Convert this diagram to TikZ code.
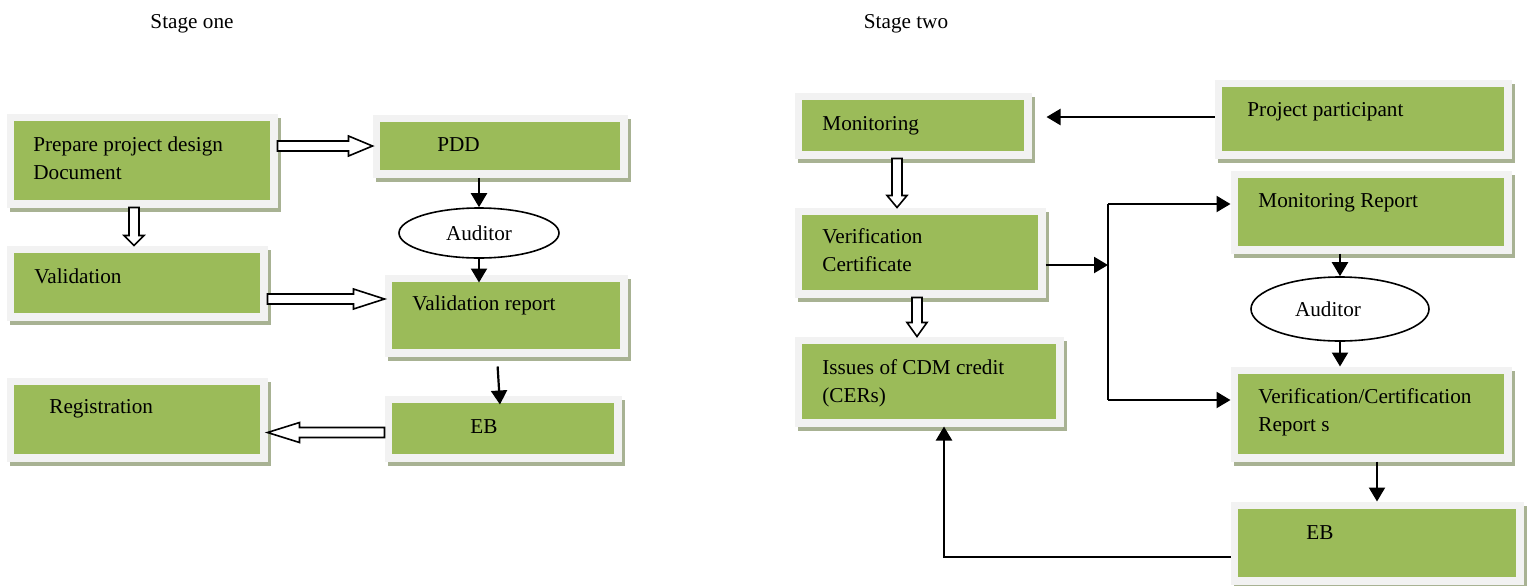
\documentclass[tikz,border=0pt]{standalone}
\usepackage{fontspec}
\setmainfont{Liberation Serif}
\usetikzlibrary{positioning, arrows.meta, shapes.geometric, calc}

\definecolor{boxgreen}{HTML}{9BBB59}
\definecolor{boxframe}{HTML}{F2F2F2}
\definecolor{boxshade}{HTML}{A8B293}

\tikzset{
  every node/.style={font=\fontsize{10.6pt}{14pt}\selectfont},
  box/.style={draw=boxframe, fill=boxgreen, line width=3.75pt, inner sep=0pt,
    preaction={draw=boxshade, fill=boxshade, line width=3.75pt,
      transform canvas={shift={(1.5pt,-2pt)}}}},
  txt/.style={inner sep=0pt, anchor=base west, align=left},
  title/.style={inner sep=0pt, anchor=base},
  aud/.style={ellipse, draw, line width=0.8pt, fill=white, inner sep=0pt},
  conn/.style={draw, line width=1.1pt, -{Triangle[length=7pt,width=8pt]}},
  hollow/.style={draw, fill=white, line width=0.8pt, line join=miter}
}

% block arrow from #2 to #3, head length #1
\newcommand{\blockarrow}[3][11pt]{%
  \coordinate (ba-s) at (#2);
  \coordinate (ba-e) at (#3);
  \coordinate (ba-h) at ($(ba-e)!#1!(ba-s)$);
  \draw[hollow] ($(ba-s)!2.5pt!90:(ba-e)$) -- ($(ba-h)!2.5pt!-90:(ba-s)$)
    -- ($(ba-h)!5pt!-90:(ba-s)$) -- (ba-e) -- ($(ba-h)!5pt!90:(ba-s)$)
    -- ($(ba-h)!2.5pt!90:(ba-s)$) -- ($(ba-s)!2.5pt!-90:(ba-e)$) -- cycle;
}

\begin{document}
\begin{tikzpicture}[x=0.5pt, y=-0.5pt]
\useasboundingbox (0,0) rectangle (1533,585);

% titles
\node[title] (st1) at (192,28) {Stage one};
\node[title] (st2) at (906,28) {Stage two};

% stage one boxes
\node[box, minimum width=131.75pt, minimum height=43.25pt] (prep) at (142,160.5) {};
\node[box, minimum width=123.75pt, minimum height=27.75pt] (pdd) at (500,146) {};
\node[box, minimum width=126.75pt, minimum height=33.75pt] (valid) at (137,283) {};
\node[box, minimum width=117.75pt, minimum height=37.25pt] (vreport) at (506,315.5) {};
\node[box, minimum width=114.75pt, minimum height=29.25pt] (ebl) at (503,428.5) {};
\node[box, minimum width=126.75pt, minimum height=38.25pt] (regis) at (137,419.5) {};
\node[aud, minimum width=80pt, minimum height=25pt] (aud1) at (479,233) {Auditor};

% stage one texts (base = last line)
\node[txt] (prep-t) at (33,179) {Prepare project design\\Document};
\node[txt] (pdd-t) at (437,151) {PDD};
\node[txt] (valid-t) at (34,283) {Validation};
\node[txt] (vreport-t) at (412,310) {Validation report};
\node[txt] (ebl-t) at (470,433) {EB};
\node[txt] (regis-t) at (49,413) {Registration};

% stage two boxes
\node[box, minimum width=114.75pt, minimum height=29.25pt] (monit) at (913,125.5) {};
\node[box, minimum width=144.75pt, minimum height=35.75pt] (partic) at (1363,119) {};
\node[box, minimum width=121.75pt, minimum height=41.25pt] (verif) at (920,252.5) {};
\node[box, minimum width=136.75pt, minimum height=37.75pt] (monrep) at (1371,212) {};
\node[box, minimum width=130.75pt, minimum height=41.25pt] (issues) at (929,381.5) {};
\node[box, minimum width=136.75pt, minimum height=43.75pt] (vcrep) at (1371,414) {};
\node[box, minimum width=142.75pt, minimum height=37.75pt] (ebr) at (1377,543) {};
\node[aud, minimum width=89pt, minimum height=32pt] (aud2) at (1340,309) {Auditor\hspace*{12pt}};

% stage two texts
\node[txt] (monit-t) at (822,130) {Monitoring};
\node[txt] (partic-t) at (1247,116) {Project participant};
\node[txt] (verif-t) at (822,271) {Verification\\Certificate};
\node[txt] (monrep-t) at (1258,207) {Monitoring Report};
\node[txt] (issues-t) at (822,402) {Issues of CDM credit\\(CERs)};
\node[txt] (vcrep-t) at (1258,431) {Verification/Certification\\Report s};
\node[txt] (ebr-t) at (1306,539) {EB};

% junction points
\coordinate (jn) at (1108,265);
\coordinate (jt) at (1108,204);
\coordinate (jb) at (1108,400);
\coordinate (corner) at (944,557);

% stage one arrows
\blockarrow[12pt]{prep.east |- pdd.west}{pdd.west}
\blockarrow[5pt]{[xshift=-4pt]prep.south}{[xshift=-4pt]prep.south |- valid.north}
\blockarrow[15.5pt]{[yshift=-8pt]valid.east}{[yshift=-8pt]valid.east -| vreport.west}
\blockarrow[16pt]{[yshift=-2pt]ebl.west}{[yshift=-2pt]ebl.west -| regis.east}
\draw[conn] (aud1.north |- pdd.south) -- (aud1.north);
\draw[conn, shorten >=-4pt] (aud1.south) -- (aud1.south |- vreport.north);
\draw[conn, shorten <=5pt, shorten >=-4.5pt] ([xshift=-4.5pt]vreport.south) -- ([xshift=-1.8pt]ebl.north);

% stage two arrows
\draw[conn, shorten >=7.5pt] ([yshift=1pt]partic.west) -- ([yshift=1pt]partic.west -| monit.east);
\blockarrow[6pt]{[xshift=-8pt]monit.south}{[xshift=-8pt]monit.south |- verif.north}
\blockarrow[7pt]{[xshift=-1.5pt]verif.south}{[xshift=-1.5pt]verif.south |- issues.north}
\draw[conn] ([yshift=-6.25pt]verif.east) -- (jn);
\draw[line width=1.1pt] (jt) -- (jb);
\draw[conn] (jt) -- (jt -| monrep.west);
\draw[conn] (jb) -- (jb -| vcrep.west);
\draw[conn] (aud2.north |- monrep.south) -- (aud2.north);
\draw[conn] (aud2.south) -- (aud2.south |- vcrep.north);
\draw[conn] (ebr.north |- vcrep.south) -- (ebr.north);
\draw[conn] (ebr.west |- corner) -- (corner) -- (corner |- issues.south);
\end{tikzpicture}
\end{document}
